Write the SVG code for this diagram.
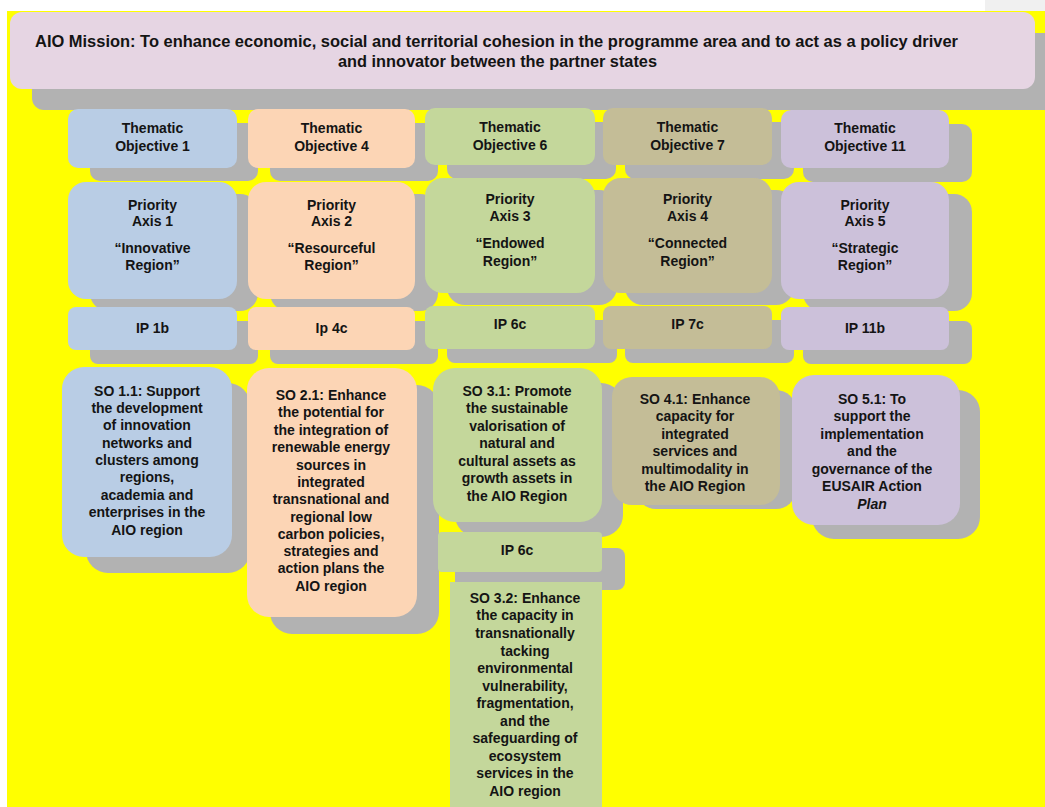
<svg xmlns="http://www.w3.org/2000/svg" width="1045" height="807" viewBox="0 0 1045 807">
<style>
.sh{fill:#B2B2B2}
.pk{fill:#E6D5E3}
.bl{fill:#B9CDE5}
.or{fill:#FCD5B5}
.gr{fill:#C4D79B}
.tn{fill:#C4BD97}
.lv{fill:#CCC1DA}
text{font-family:"Liberation Sans",Arial,sans-serif;font-weight:bold;font-size:14px;fill:#141414;text-anchor:middle}
.m{font-size:16px;text-anchor:start}
</style>
<rect x="0" y="0" width="1045" height="807" fill="#FFFFFF"/>
<rect x="985" y="0" width="60" height="11" fill="#F0F0F0"/>
<rect x="7" y="11" width="1038" height="796" fill="#FFFF00"/>
<g id="shadows">
<rect class="sh" x="32" y="33" width="1040" height="77" rx="12"/>
<rect class="sh" x="90" y="123" width="168" height="58" rx="10"/>
<rect class="sh" x="270" y="123" width="168" height="58" rx="10"/>
<rect class="sh" x="447" y="122" width="169" height="57" rx="10"/>
<rect class="sh" x="625" y="122" width="169" height="57" rx="10"/>
<rect class="sh" x="803" y="124" width="169" height="58" rx="10"/>
<rect class="sh" x="90" y="194" width="168" height="117" rx="18"/>
<rect class="sh" x="270" y="194" width="168" height="117" rx="18"/>
<rect class="sh" x="447" y="190" width="170" height="115" rx="18"/>
<rect class="sh" x="625" y="190" width="169" height="115" rx="18"/>
<rect class="sh" x="803" y="194" width="169" height="117" rx="18"/>
<rect class="sh" x="90" y="321" width="168" height="43" rx="8"/>
<rect class="sh" x="270" y="321" width="168" height="43" rx="8"/>
<rect class="sh" x="447" y="320" width="170" height="43" rx="8"/>
<rect class="sh" x="625" y="320" width="169" height="43" rx="8"/>
<rect class="sh" x="803" y="321" width="169" height="43" rx="8"/>
<rect class="sh" x="86" y="383" width="164" height="190" rx="22"/>
<rect class="sh" x="270" y="385" width="169" height="249" rx="22"/>
<rect class="sh" x="455" y="383" width="168" height="154" rx="22"/>
<rect class="sh" x="636" y="390" width="160" height="119" rx="20"/>
<rect class="sh" x="812" y="390" width="168" height="149" rx="22"/>
<rect class="sh" x="455" y="548" width="170" height="42" rx="8"/>
</g>
<g id="mission">
<rect class="pk" x="10" y="12" width="1025" height="77" rx="12"/>
<text class="m" x="35" y="47" textLength="923" lengthAdjust="spacingAndGlyphs">AIO Mission: To enhance economic, social and territorial cohesion in the programme area and to act as a policy driver</text>
<text class="m" x="338" y="67" textLength="319" lengthAdjust="spacingAndGlyphs">and innovator between the partner states</text>
</g>
<g id="to1"><rect class="bl" x="68" y="109" width="169" height="59" rx="10"/><text x="152.5" y="133">Thematic</text><text x="152.5" y="151">Objective 1</text></g>
<g id="to4"><rect class="or" x="248" y="109" width="167" height="59" rx="10"/><text x="331.5" y="133">Thematic</text><text x="331.5" y="151">Objective 4</text></g>
<g id="to6"><rect class="gr" x="425" y="108" width="170" height="57" rx="10"/><text x="510" y="132">Thematic</text><text x="510" y="150">Objective 6</text></g>
<g id="to7"><rect class="tn" x="603" y="108" width="169" height="57" rx="10"/><text x="687.5" y="132">Thematic</text><text x="687.5" y="150">Objective 7</text></g>
<g id="to11"><rect class="lv" x="781" y="110" width="168" height="58" rx="10"/><text x="865" y="133">Thematic</text><text x="865" y="151">Objective 11</text></g>
<g id="pa1"><rect class="bl" x="68" y="182" width="169" height="117" rx="18"/><text x="152.5" y="210">Priority</text><text x="152.5" y="226">Axis 1</text><text x="152.5" y="253">“Innovative</text><text x="152.5" y="270">Region”</text></g>
<g id="pa2"><rect class="or" x="248" y="182" width="167" height="117" rx="18"/><text x="331.5" y="210">Priority</text><text x="331.5" y="226">Axis 2</text><text x="331.5" y="253">“Resourceful</text><text x="331.5" y="270">Region”</text></g>
<g id="pa3"><rect class="gr" x="425" y="178" width="170" height="115" rx="18"/><text x="510" y="204">Priority</text><text x="510" y="221">Axis 3</text><text x="510" y="248">“Endowed</text><text x="510" y="266">Region”</text></g>
<g id="pa4"><rect class="tn" x="603" y="178" width="169" height="115" rx="18"/><text x="687.5" y="204">Priority</text><text x="687.5" y="221">Axis 4</text><text x="687.5" y="248">“Connected</text><text x="687.5" y="266">Region”</text></g>
<g id="pa5"><rect class="lv" x="781" y="182" width="168" height="117" rx="18"/><text x="865" y="210">Priority</text><text x="865" y="226">Axis 5</text><text x="865" y="253">“Strategic</text><text x="865" y="270">Region”</text></g>
<g id="ip1b"><rect class="bl" x="68" y="307" width="169" height="43" rx="8"/><text x="152.5" y="333">IP 1b</text></g>
<g id="ip4c"><rect class="or" x="248" y="307" width="167" height="43" rx="8"/><text x="331.5" y="333">Ip 4c</text></g>
<g id="ip6c"><rect class="gr" x="425" y="306" width="170" height="43" rx="8"/><text x="510" y="329">IP 6c</text></g>
<g id="ip7c"><rect class="tn" x="603" y="306" width="169" height="43" rx="8"/><text x="687.5" y="329">IP 7c</text></g>
<g id="ip11b"><rect class="lv" x="781" y="307" width="168" height="43" rx="8"/><text x="865" y="333">IP 11b</text></g>
<g id="so11"><rect class="bl" x="62" y="367" width="170" height="190" rx="22"/>
<text x="147" y="396">SO 1.1: Support</text><text x="147" y="413">the development</text><text x="147" y="430">of innovation</text><text x="147" y="448">networks and</text><text x="147" y="465">clusters among</text><text x="147" y="482">regions,</text><text x="147" y="500">academia and</text><text x="147" y="517">enterprises in the</text><text x="147" y="535">AIO region</text></g>
<g id="so21"><rect class="or" x="247" y="368" width="170" height="249" rx="22"/>
<text x="331" y="400">SO 2.1: Enhance</text><text x="331" y="417">the potential for</text><text x="331" y="435">the integration of</text><text x="331" y="452">renewable energy</text><text x="331" y="470">sources in</text><text x="331" y="487">integrated</text><text x="331" y="504">transnational and</text><text x="331" y="522">regional low</text><text x="331" y="539">carbon policies,</text><text x="331" y="556">strategies and</text><text x="331" y="573">action plans the</text><text x="331" y="591">AIO region</text></g>
<g id="so31"><rect class="gr" x="433" y="368" width="169" height="154" rx="22"/>
<text x="517" y="396">SO 3.1: Promote</text><text x="517" y="413">the sustainable</text><text x="517" y="431">valorisation of</text><text x="517" y="448">natural and</text><text x="517" y="466">cultural assets as</text><text x="517" y="483">growth assets in</text><text x="517" y="501">the AIO Region</text></g>
<g id="so41"><rect class="tn" x="612" y="377" width="168" height="128" rx="20"/>
<text x="695" y="404">SO 4.1: Enhance</text><text x="695" y="421">capacity for</text><text x="695" y="439">integrated</text><text x="695" y="456">services and</text><text x="695" y="474">multimodality in</text><text x="695" y="491">the AIO Region</text></g>
<g id="so51"><rect class="lv" x="792" y="375" width="168" height="150" rx="22"/>
<text x="872" y="404">SO 5.1: To</text><text x="872" y="421">support the</text><text x="872" y="439">implementation</text><text x="872" y="456">and the</text><text x="872" y="474">governance of the</text><text x="872" y="491">EUSAIR Action</text><text x="872" y="509" font-style="italic">Plan</text></g>
<g id="ip6c-2"><rect class="gr" x="438" y="532" width="164" height="40" rx="4"/><text x="517" y="555">IP 6c</text></g>
<g id="so32"><rect class="gr" x="450" y="582" width="152" height="230"/>
<text x="525" y="603">SO 3.2: Enhance</text><text x="525" y="620">the capacity in</text><text x="525" y="638">transnationally</text><text x="525" y="656">tacking</text><text x="525" y="673">environmental</text><text x="525" y="691">vulnerability,</text><text x="525" y="708">fragmentation,</text><text x="525" y="726">and the</text><text x="525" y="743">safeguarding of</text><text x="525" y="761">ecosystem</text><text x="525" y="778">services in the</text><text x="525" y="796">AIO region</text></g>
<g id="connectors"/>
</svg>
